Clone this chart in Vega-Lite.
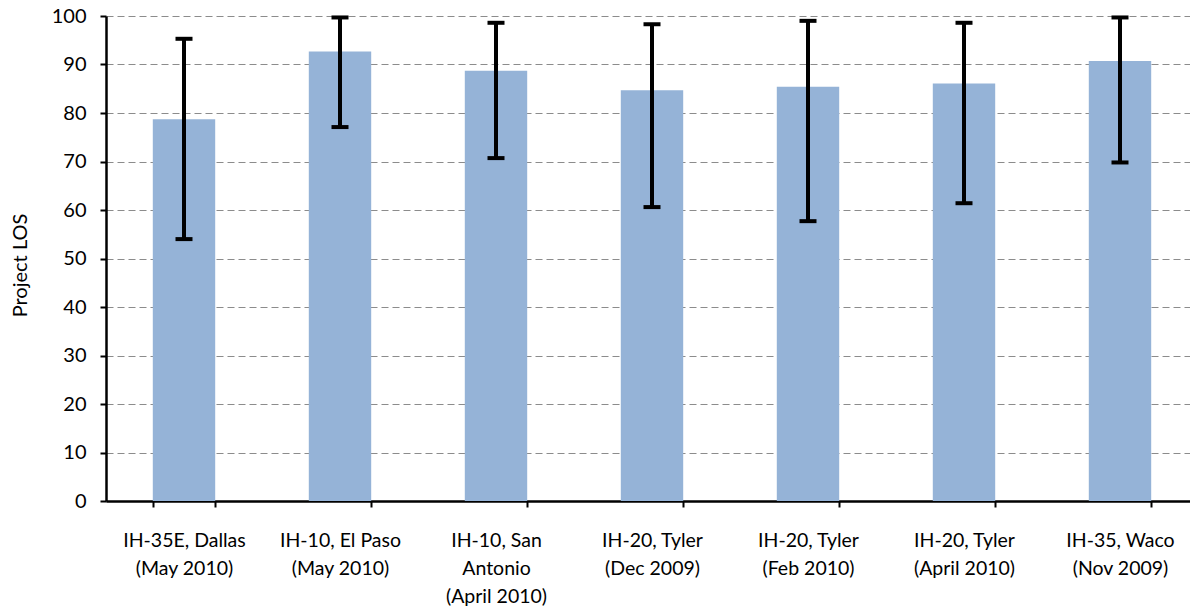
{
  "$schema": "https://vega.github.io/schema/vega-lite/v6.json",
  "autosize": "none",
  "padding": {"left": 106, "top": 16, "right": -8, "bottom": 109},
  "width": 1092,
  "height": 485,
  "background": "white",
  "config": {
    "view": {"stroke": null},
    "font": "Lato",
    "axis": {"labelFont": "Lato", "titleFont": "Lato", "labelColor": "#000000", "titleColor": "#000000"}
  },
  "data": {
    "values": [
      {"site": "IH-35E, Dallas|(May 2010)", "los": 78.7, "lo": 54.0, "hi": 95.3},
      {"site": "IH-10, El Paso|(May 2010)", "los": 92.7, "lo": 77.1, "hi": 99.7},
      {"site": "IH-10, San|Antonio|(April 2010)", "los": 88.7, "lo": 70.7, "hi": 98.6},
      {"site": "IH-20, Tyler|(Dec 2009)", "los": 84.7, "lo": 60.6, "hi": 98.3},
      {"site": "IH-20, Tyler|(Feb 2010)", "los": 85.4, "lo": 57.7, "hi": 99.0},
      {"site": "IH-20, Tyler|(April 2010)", "los": 86.1, "lo": 61.4, "hi": 98.6},
      {"site": "IH-35, Waco|(Nov 2009)", "los": 90.7, "lo": 69.8, "hi": 99.7}
    ]
  },
  "encoding": {
    "x": {
      "field": "site",
      "type": "nominal",
      "sort": null,
      "scale": {"paddingInner": 0.6, "paddingOuter": 0.3},
      "axis": {
        "title": null,
        "labelAngle": 0,
        "labelExpr": "split(datum.label, '|')",
        "labelFontSize": 19.5,
        "labelLineHeight": 28,
        "labelPadding": 24,
        "labelLimit": 0,
        "tickBand": "extent",
        "tickSize": 6,
        "tickColor": "#000000",
        "tickWidth": 2,
        "domainColor": "#000000",
        "domainWidth": 2.5,
        "grid": false
      }
    }
  },
  "layer": [
    {
      "mark": {"type": "bar", "color": "#95b3d7"},
      "encoding": {
        "y": {
          "field": "los",
          "type": "quantitative",
          "scale": {"domain": [0, 100], "nice": false},
          "axis": {
            "title": "Project LOS",
            "titleFontSize": 20,
            "titleFontWeight": "normal",
            "titleAngle": -90,
            "titleX": -86,
            "titleY": 249,
            "titleAlign": "center",
            "titleBaseline": "middle",
            "values": [0, 10, 20, 30, 40, 50, 60, 70, 80, 90, 100],
            "labelFontSize": 20,
            "labelPadding": 14,
            "tickSize": 6,
            "tickColor": "#000000",
            "tickWidth": 2,
            "domainColor": "#000000",
            "domainWidth": 2.5,
            "grid": true,
            "gridColor": "#8c8c8c",
            "gridWidth": 1.2,
            "gridDash": [7, 4]
          }
        }
      }
    },
    {
      "mark": {"type": "rule", "color": "#000000", "strokeWidth": 4},
      "encoding": {
        "y": {"field": "lo", "type": "quantitative"},
        "y2": {"field": "hi"}
      }
    },
    {
      "mark": {"type": "tick", "color": "#000000", "size": 17, "thickness": 4, "opacity": 1},
      "encoding": {"y": {"field": "lo", "type": "quantitative"}}
    },
    {
      "mark": {"type": "tick", "color": "#000000", "size": 17, "thickness": 4, "opacity": 1},
      "encoding": {"y": {"field": "hi", "type": "quantitative"}}
    }
  ]
}
